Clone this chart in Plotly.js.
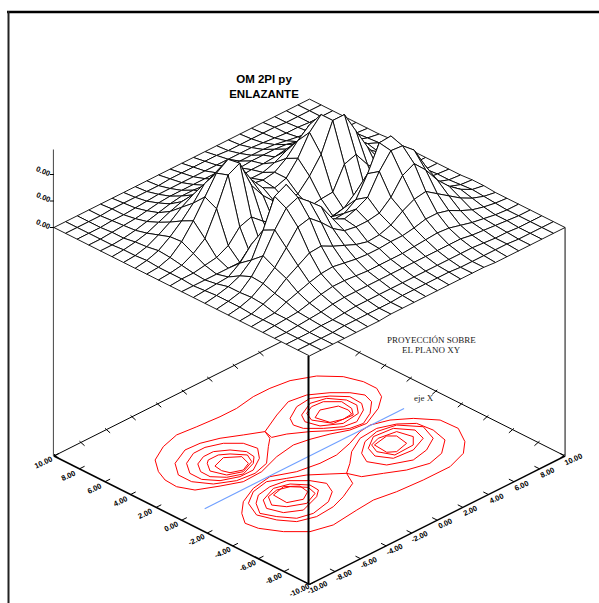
<!DOCTYPE html>
<html><head><meta charset="utf-8">
<script src="https://cdn.plot.ly/plotly-3.0.1.min.js"></script>
<style>html,body{margin:0;padding:0;background:#fff}#chart{width:599px;height:603px}</style>
</head><body><div id="chart"></div>
<script>
// ---------- DATA ----------
const gridX = [-10,-9.09,-8.18,-7.27,-6.36,-5.45,-4.55,-3.64,-2.73,-1.82,-0.91,0,0.91,1.82,2.73,3.64,4.55,5.45,6.36,7.27,8.18,9.09,10];
const gridY = gridX;
// surface height (rows: y = -10 ... 10, columns: x = -10 ... 10), relative units
const surfaceZ = [
[0,0,0,0,0,0,0,1,1,1,1,1,1,1,1,1,0,0,0,0,0,0,0],
[0,0,0,0,1,1,1,1,1,2,2,2,2,2,1,1,1,1,1,0,0,0,0],
[0,0,0,1,1,2,3,3,3,3,3,3,3,3,3,3,3,2,1,1,0,0,0],
[0,0,1,2,3,5,6,6,6,6,6,6,6,6,6,6,6,4,3,2,1,0,0],
[0,1,2,3,6,9,11,11,10,9,9,9,9,10,11,12,11,8,5,3,1,0,0],
[0,1,2,7,11,15,18,19,17,15,14,14,15,15,17,20,20,17,11,6,3,1,0],
[0,1,5,10,19,26,33,34,28,23,18,15,16,20,28,34,36,28,20,12,6,2,0],
[0,2,6,14,24,38,53,56,46,34,26,24,24,26,36,52,58,46,30,18,9,3,1],
[0,2,5,15,30,50,66,71,61,50,32,26,30,36,56,71,70,60,38,16,6,2,1],
[0,2,5,10,20,44,72,78,58,36,24,19,20,28,48,73,74,56,30,12,5,1,0],
[0,1,2,3,11,24,30,33,24,15,12,11,11,14,24,33,42,30,14,5,2,1,0],
[0,0,0,0,0,0,0,0,0,0,0,0,0,0,0,0,0,0,0,0,0,0,0],
[0,1,1,3,5,11,24,28,18,10,8,7,9,11,12,34,38,22,10,3,1,0,0],
[0,1,3,9,18,42,70,76,48,32,20,15,16,28,44,72,72,50,28,10,4,1,0],
[0,1,5,15,30,48,66,74,62,42,28,22,26,40,60,72,58,46,30,14,5,1,0],
[0,2,6,14,24,36,50,56,48,36,26,24,26,34,46,56,54,40,26,16,8,3,1],
[0,1,4,10,17,26,33,36,30,24,21,20,20,24,30,34,34,26,18,11,6,2,0],
[0,1,3,6,11,16,20,21,19,18,17,16,17,17,18,20,19,16,12,8,4,1,0],
[0,0,1,3,6,9,12,14,14,13,13,13,13,14,14,14,13,10,7,4,2,0,0],
[0,0,1,2,3,5,7,8,8,8,8,8,8,8,8,8,7,5,3,2,1,0,0],
[0,0,0,1,1,2,3,4,4,4,4,4,4,4,4,4,3,2,1,1,0,0,0],
[0,0,0,0,1,1,1,1,1,2,2,2,2,2,1,1,1,1,1,0,0,0,0],
[0,0,0,0,0,0,0,0,0,0,0,0,0,0,0,0,0,0,0,0,0,0,0]
];
// contour lines on the XY plane, [x, y] pairs
const outerPos = [[-6.35,5.73],[-7.13,4.69],[-7.52,3.78],[-7.59,2.81],[-7.13,1.83],[-5.84,1.16],[-4.59,.59],[-3.09,.65],[-1.33,1.23],[.23,1.49],[1.32,1.28],[2.51,.91],[3.6,.44],[4.78,.3],[6.4,1.02],[7.44,1.8],[7.9,2.64],[7.9,3.68],[7.5,4.86],[6.51,5.95],[5.11,6.63],[3.72,6.82],[2.42,6.82],[.86,6.56],[-.44,6.56],[-2.13,6.69],[-3.56,6.84],[-4.99,6.45]];
const outerNeg = [[-7.12,-1.82],[-7.76,-2.72],[-7.63,-3.63],[-6.91,-4.87],[-5.87,-5.91],[-4.44,-6.3],[-2.36,-6.06],[-.93,-5.93],[.63,-6.19],[2.58,-6.32],[4.67,-6.33],[6.23,-5.81],[7.2,-4.96],[7.97,-3.67],[7.91,-2.31],[6.99,-1.13],[5.95,-.35],[4.78,.04],[3.88,-.08],[2.57,-.59],[1.14,-.98],[-.16,-.98],[-1.72,-.72],[-3.16,-.06],[-4.72,-.32],[-6.15,-.97]];
const saddleA = [[.16,3.64],[-.95,4.23],[-2.12,4.88],[-3.29,5.27],[-4.4,5.34],[-5.83,4.69],[-6.61,3.65],[-6.61,2.61],[-5.94,1.58],[-4.77,.93],[-3.48,.78],[-2.25,1.11],[-.88,2.34],[-.17,2.93]];
const saddleC = [[.16,3.64],[1.91,4.47],[3.4,5.06],[4.64,4.86],[5.73,4.13],[6.51,3.35],[6.92,2.58],[6.66,1.8],[5.69,.95],[4.65,.43],[3.73,.57],[2.77,1.17],[1.92,1.88],[.82,2.6],[-.03,2.93]];
const lobeA3 = [[-5.38,4.24],[-6.03,3.33],[-6.04,2.4],[-5.42,1.58],[-4.33,1.11],[-3.29,1.11],[-2.14,1.78],[-1.43,2.63],[-1.6,3.58],[-2.38,4.36],[-3.42,4.76],[-4.33,4.75]];
const lobeA4 = [[-4.99,3.75],[-5.48,3.04],[-5.5,2.28],[-4.9,1.58],[-3.99,1.19],[-2.77,1.63],[-2.22,2.12],[-2.12,2.8],[-2.64,3.58],[-3.42,4.1],[-4.2,4.1]];
const lobeA5 = [[-4.57,3.43],[-5.06,2.72],[-4.72,1.76],[-3.81,1.37],[-2.7,1.82],[-2.35,2.51],[-2.95,3.27],[-3.49,3.65],[-4.27,3.65]];
const lobeA6 = [[-4.48,2.92],[-4.58,2.3],[-4.41,1.81],[-3.68,1.5],[-2.96,1.82],[-2.7,2.6],[-3.5,3.24]];
const lobeC3 = [[2.17,3.69],[1.78,3.04],[1.91,2.39],[2.69,1.61],[3.6,.96],[4.52,.82],[5.69,1.47],[6.14,2.06],[6.2,3.04],[5.47,3.87],[4.51,4.47],[3.34,4.34]];
const lobeC4 = [[2.88,3.5],[2.49,2.85],[2.75,1.93],[3.86,1.22],[5.23,1.41],[5.82,2.12],[5.81,2.91],[5.16,3.82],[4.12,4.08]];
const lobeC5 = [[3.21,3.43],[2.88,2.72],[3.47,1.61],[4.9,1.48],[5.36,2.06],[5.49,2.97],[4.77,3.69],[3.92,3.76]];
const lobeC6 = [[3.21,2.77],[3.42,1.82],[4.18,1.54],[4.92,1.62],[5.1,2.06],[5.02,2.76],[3.99,3.17]];
const saddleB = [[.1,-2.8],[-.44,-3.82],[-1.85,-4.49],[-3.02,-4.88],[-4.44,-5],[-5.61,-4.61],[-6.26,-3.7],[-6.66,-2.52],[-6.08,-1.3],[-4.98,-.58],[-3.68,-.32],[-2.63,-.85],[-1.59,-1.37],[-.6,-2.2]];
const saddleD = [[.1,-2.8],[1.01,-2.15],[1.99,-1.31],[3.36,-.6],[4.78,-.48],[5.9,-.92],[6.73,-1.65],[6.86,-2.82],[6.55,-4.05],[5.38,-4.96],[4.14,-5.28],[2.71,-4.89],[1.54,-4.24],[.43,-3.65]];
const lobeB3 = [[-5.78,-1.6],[-6.41,-2.53],[-6,-3.44],[-5.35,-4.35],[-4.32,-4.62],[-2.82,-4.3],[-1.89,-3.67],[-1.46,-2.8],[-1.9,-1.94],[-2.81,-1.03],[-3.94,-.84],[-5.04,-1.04]];
const lobeB4 = [[-5.24,-1.62],[-5.76,-2.4],[-5.43,-3.39],[-4.45,-3.97],[-2.89,-3.45],[-2.3,-3],[-2.24,-2.28],[-2.94,-1.42],[-3.93,-1.11]];
const lobeB5 = [[-4.78,-1.56],[-5.3,-2.34],[-4.84,-3.06],[-3.8,-3.58],[-2.69,-3.13],[-2.49,-2.39],[-3.15,-1.63],[-3.93,-1.37]];
const lobeB6 = [[-4.45,-1.63],[-4.52,-2.74],[-3.61,-3.13],[-2.85,-2.71],[-2.71,-1.97],[-3.41,-1.37]];
const lobeD3 = [[2.25,-1.83],[1.8,-2.68],[2.32,-3.72],[3.75,-4.37],[5.05,-4.11],[6.22,-3.46],[6.73,-2.17],[5.82,-1],[4.53,-.73],[3.29,-1.05]];
const lobeD4 = [[2.9,-1.7],[2.56,-2.56],[3.1,-3.46],[4.53,-3.59],[5.83,-3.07],[6.15,-2.11],[5.43,-1.13],[4.01,-.99]];
const lobeD5 = [[3.29,-1.57],[2.97,-2.29],[3.42,-3.26],[4.92,-3.2],[5.57,-2.55],[5.31,-1.51],[4.07,-1.31]];
const lobeD6 = [[3.4,-1.68],[3.31,-2.73],[3.75,-3.07],[4.79,-2.81],[4.97,-1.85],[4.58,-1.46]];
const contours = [outerPos,outerNeg,saddleA,saddleC,lobeA3,lobeA4,lobeA5,lobeA6,lobeC3,lobeC4,lobeC5,lobeC6,saddleB,saddleD,lobeB3,lobeB4,lobeB5,lobeB6,lobeD3,lobeD4,lobeD5,lobeD6];
const ejeXLine = [[-8.2,0],[7.4,0]];
const axisTicks = [-10,-8,-6,-4,-2,0,2,4,6,8,10];
const axisTickText = ['-10.00','-8.00','-6.00','-4.00','-2.00','0.00','2.00','4.00','6.00','8.00','10.00'];
const zTicks = [0,26.5,53];
const zTickText = ['0.00','0.00','0.00'];
const zAxisTop = 78;

// ---------- PROJECTION (axonometric) ----------
const CX=309.5, FLOOR=456, LIFT=228.5, UX=12.78, UY=6.42;
const px=(x,y)=>CX+UX*(x-y);
const py=(x,y,z)=>FLOOR-UY*(x+y)-z;

const traces=[];
const seg=(xs,ys,color,width)=>traces.push({type:'scatter',mode:'lines',x:xs,y:ys,line:{color:color,width:width,simplify:false},hoverinfo:'skip',showlegend:false});

// back edges of floor & corner posts
seg([px(10,10),px(-10,10)],[py(10,10,0),py(-10,10,0)],'#000',1);
seg([px(10,10),px(10,-10)],[py(10,10,0),py(10,-10,0)],'#000',1);
axisTicks.forEach(t=>{
  seg([px(t,10),px(t,9.6)],[py(t,10,0)-2,py(t,9.6,0)],'#000',1);
  seg([px(10,t),px(9.6,t)],[py(10,t,0)-2,py(9.6,t,0)],'#000',1);
  seg([px(t,-10),px(t,-9.6)],[py(t,-10,0),py(t,-9.6,0)],'#000',1);
  seg([px(-10,t),px(-9.6,t)],[py(-10,t,0),py(-9.6,t,0)],'#000',1);
});
// contours
contours.forEach(c=>{
  const xs=c.map(p=>px(p[0],p[1])); const ys=c.map(p=>py(p[0],p[1],0));
  xs.push(xs[0]); ys.push(ys[0]);
  seg(xs,ys,'#ff0000',1);
});
seg(ejeXLine.map(p=>px(p[0],p[1])),ejeXLine.map(p=>py(p[0],p[1],0)),'#6f9fff',1.1);
// front edges
seg([px(-10,10),px(-10,-10)],[py(-10,10,0),py(-10,-10,0)],'#000',1.6);
seg([px(-10,-10),px(10,-10)],[py(-10,-10,0),py(10,-10,0)],'#000',1.4);
// posts
const postL=[-10,10], postR=[10,-10], postF=[-10,-10];
seg([px(...postL)-0.5,px(...postL)-0.5],[py(...postL,0),py(...postL,LIFT+zAxisTop)],'#444',1);
zTicks.forEach(z=>seg([px(...postL)-4,px(...postL)],[py(...postL,LIFT+z),py(...postL,LIFT+z)],'#000',1));
seg([px(...postR),px(...postR)],[py(...postR,0),py(...postR,LIFT)],'#666',1.6);
seg([px(...postF)-1,px(...postF)-1],[py(...postF,0),py(...postF,LIFT)],'#000',2);

// surface: painter's algorithm, back to front
const cells=[];
for(let j=0;j<gridY.length-1;j++)for(let i=0;i<gridX.length-1;i++)cells.push([i,j]);
cells.sort((a,b)=>(b[0]+b[1])-(a[0]+a[1]));
cells.forEach(([i,j])=>{
  const c=[[i,j],[i+1,j],[i+1,j+1],[i,j+1],[i,j]];
  traces.push({type:'scatter',mode:'lines',
    x:c.map(([a,b])=>px(gridX[a],gridY[b])),
    y:c.map(([a,b])=>py(gridX[a],gridY[b],LIFT+surfaceZ[b][a])),
    fill:'toself',fillcolor:'#fff',line:{color:'#000',width:0.9,simplify:false},hoverinfo:'skip',showlegend:false});
});

// text
const ann=[];
const F={family:'Liberation Sans, Arial, sans-serif',size:7.5,color:'#000'};
const S={family:'Liberation Serif, Times New Roman, serif',size:9,color:'#222'};
const note=(x,y,text,font,angle)=>ann.push({x:x,y:y,xref:'x',yref:'y',text:text,font:font,textangle:angle||0,showarrow:false,xanchor:'center',yanchor:'middle'});
axisTicks.forEach((t,k)=>{
  note(px(-10,t)-10.5,py(-10,t,0)+6.5,'<b>'+axisTickText[k]+'</b>',F,-25);
  note(px(t,-10)+8,py(t,-10,0)+3.5,'<b>'+axisTickText[k]+'</b>',F,-25);
});
zTicks.forEach((z,k)=>note(px(...postL)-10,py(...postL,LIFT+z)-3.5,'<b>'+zTickText[k]+'</b>',F,22));
note(431,340,'PROYECCIÓN SOBRE',S);
note(431,349.5,'EL PLANO XY',S);
note(423.5,398,'eje X',S);

const layout={
  width:599,height:603,margin:{l:0,r:0,t:0,b:0,pad:0},
  paper_bgcolor:'#fff',plot_bgcolor:'#fff',showlegend:false,hovermode:false,
  title:{text:'<b>OM 2PI py<br>ENLAZANTE</b>',font:{family:'Liberation Sans, Arial, sans-serif',size:11.5,color:'#000'},x:264/599,xanchor:'center',xref:'paper',y:1-83/603,yanchor:'middle',yref:'paper'},
  xaxis:{range:[0,599],visible:false,fixedrange:true},
  yaxis:{range:[603,0],visible:false,fixedrange:true},
  annotations:ann,
  shapes:[
    {type:'line',xref:'x',yref:'y',x0:7,x1:599,y0:12,y1:12,line:{color:'#000',width:2.5}},
    {type:'line',xref:'x',yref:'y',x0:8.5,x1:8.5,y0:11,y1:603,line:{color:'#222',width:2}}
  ]
};
Plotly.newPlot('chart',traces,layout,{displayModeBar:false,staticPlot:true});
</script></body></html>
